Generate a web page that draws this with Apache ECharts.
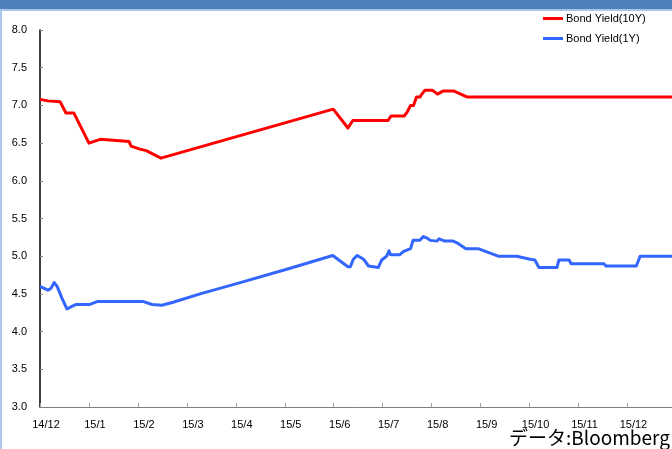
<!DOCTYPE html>
<html>
<head>
<meta charset="utf-8">
<script src="https://cdn.jsdelivr.net/npm/echarts@6/dist/echarts.min.js"></script>
<style>
  html, body { margin: 0; padding: 0; background: #fff; }
  #chart { width: 672px; height: 449px; }
</style>
</head>
<body>
<div id="chart"></div>
<script>
// Month tick labels; x values are months counted from Dec 2014
const monthLabels = ['14/12', '15/1', '15/2', '15/3', '15/4', '15/5', '15/6',
                     '15/7', '15/8', '15/9', '15/10', '15/11', '15/12'];

// 10-year bond yield (%)
const yield10Y = [
  [0.00, 7.08], [0.16, 7.06], [0.41, 7.05], [0.53, 6.90], [0.69, 6.90],
  [1.00, 6.50], [1.23, 6.55], [1.82, 6.52], [1.86, 6.46], [2.04, 6.42],
  [2.17, 6.40], [2.47, 6.30], [5.99, 6.95], [6.29, 6.70], [6.39, 6.80],
  [7.11, 6.80], [7.17, 6.86], [7.44, 6.86], [7.50, 6.91], [7.57, 7.00],
  [7.63, 7.00], [7.69, 7.11], [7.76, 7.11], [7.79, 7.14], [7.86, 7.20],
  [8.02, 7.20], [8.12, 7.15], [8.23, 7.19], [8.46, 7.19], [8.73, 7.11],
  [12.91, 7.11]
];

// 1-year bond yield (%)
const yield1Y = [
  [0.00, 4.60], [0.16, 4.55], [0.22, 4.57], [0.29, 4.65], [0.35, 4.60],
  [0.45, 4.44], [0.55, 4.30], [0.61, 4.32], [0.74, 4.36], [1.02, 4.36],
  [1.18, 4.40], [2.10, 4.40], [2.29, 4.36], [2.49, 4.35], [2.72, 4.39],
  [3.27, 4.50], [4.09, 4.65], [5.11, 4.84], [5.98, 5.01], [6.29, 4.86],
  [6.34, 4.86], [6.40, 4.96], [6.48, 5.01], [6.61, 4.96], [6.71, 4.87],
  [6.74, 4.85], [6.91, 4.85], [6.98, 4.95], [7.08, 5.00], [7.13, 5.07],
  [7.16, 5.02], [7.35, 5.02], [7.42, 5.06], [7.57, 5.10], [7.62, 5.21],
  [7.76, 5.21], [7.83, 5.26], [7.91, 5.24], [7.97, 5.21], [8.11, 5.20],
  [8.15, 5.23], [8.27, 5.20], [8.44, 5.20], [8.54, 5.17], [8.70, 5.10],
  [8.95, 5.10], [9.36, 5.00], [9.74, 5.00], [10.01, 4.96], [10.11, 4.95],
  [10.19, 4.85], [10.56, 4.85], [10.60, 4.95], [10.81, 4.95], [10.85, 4.90],
  [11.52, 4.90], [11.56, 4.87], [12.18, 4.87], [12.26, 5.00], [12.91, 5.00]
];

const chart = echarts.init(document.getElementById('chart'), null, { renderer: 'canvas' });

const baseFont = '"Liberation Sans", Arial, sans-serif';

chart.setOption({
  animation: false,
  backgroundColor: '#ffffff',
  textStyle: { fontFamily: baseFont },
  grid: { left: 40, top: 30, width: 636.4, height: 377, outerBoundsMode: 'none', containLabel: false },
  legend: {
    orient: 'vertical',
    left: 538,
    top: 8,
    itemWidth: 20,
    itemHeight: 3,
    itemGap: 9,
    icon: 'rect',
    textStyle: { fontSize: 11, color: '#000', fontFamily: baseFont, padding: [0, 0, 0, -2] },
    data: ['Bond Yield(10Y)', 'Bond Yield(1Y)']
  },
  xAxis: {
    type: 'value',
    min: 0,
    max: 13,
    interval: 1,
    axisLine: { lineStyle: { color: '#808080', width: 1 } },
    axisTick: { inside: true, length: 4, lineStyle: { color: '#a0a0a0' } },
    splitLine: { show: false },
    axisLabel: {
      color: '#000',
      fontSize: 11,
      margin: 12,
      padding: [0, 0, 0, 12],
      formatter: v => (monthLabels[Math.round(v)] || '')
    }
  },
  yAxis: {
    type: 'value',
    min: 3,
    max: 8,
    interval: 0.5,
    axisLine: { show: true, lineStyle: { color: '#000', width: 1.5 } },
    axisTick: { show: true, inside: true, length: 3, lineStyle: { color: '#808080' } },
    splitLine: { show: false },
    axisLabel: {
      color: '#000',
      fontSize: 11,
      margin: 13,
      formatter: v => v.toFixed(1)
    }
  },
  series: [
    {
      name: 'Bond Yield(10Y)',
      type: 'line',
      data: yield10Y,
      showSymbol: false,
      symbol: 'none',
      color: '#ff0000',
      lineStyle: { width: 3, color: '#ff0000', join: 'round' }
    },
    {
      name: 'Bond Yield(1Y)',
      type: 'line',
      data: yield1Y,
      showSymbol: false,
      symbol: 'none',
      color: '#3366ff',
      lineStyle: { width: 3, color: '#3366ff', join: 'round' }
    }
  ],
  graphic: [
    { type: 'rect', shape: { x: 0, y: 0, width: 672, height: 9 }, style: { fill: '#4f81bd' }, silent: true },
    { type: 'rect', shape: { x: 0, y: 9, width: 672, height: 2 }, style: { fill: '#a9c6ea' }, silent: true },
    { type: 'rect', shape: { x: 0, y: 9, width: 2, height: 440 }, style: { fill: '#a9c6ea' }, silent: true },
    {
      type: 'text',
      right: 2,
      top: 428,
      style: {
        text: 'データ:Bloomberg',
        fontSize: 19,
        fill: '#000',
        fontFamily: '"Noto Sans CJK JP", "Noto Sans", sans-serif'
      },
      silent: true
    }
  ]
});
</script>
</body>
</html>
